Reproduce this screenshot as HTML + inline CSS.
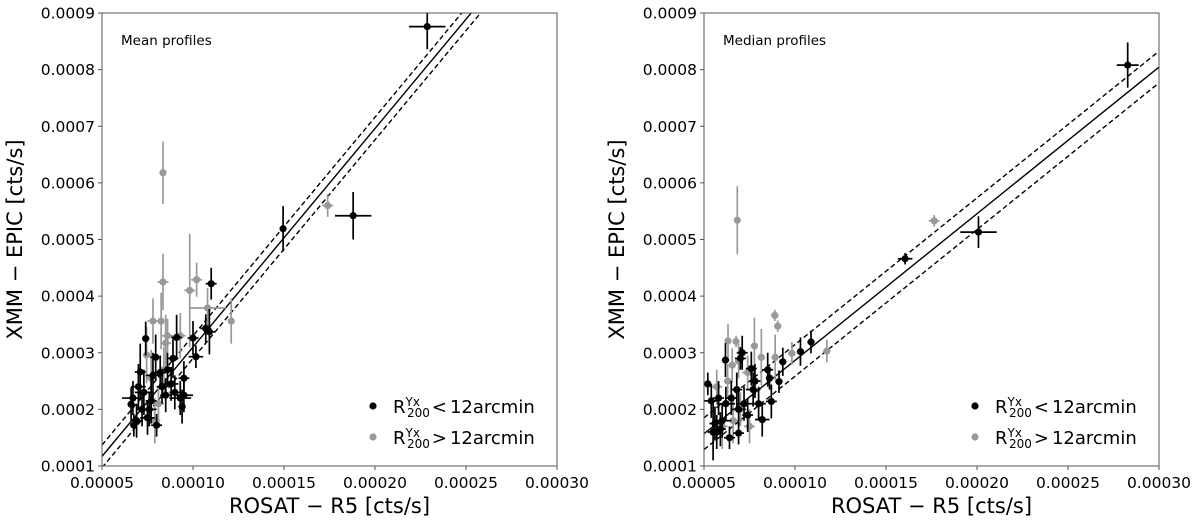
<!DOCTYPE html>
<html><head><meta charset="utf-8">
<style>
html,body{margin:0;padding:0;background:#fff;}
svg{display:block;font-family:"DejaVu Sans","Liberation Sans",sans-serif;}
</style></head>
<body>
<svg id="chart" width="1200" height="527" viewBox="0 0 1200 527" xmlns="http://www.w3.org/2000/svg"></svg>
<script>
// ---- data (x in cts/s, y in cts/s) ----
const xTicks = [0.00005,0.00010,0.00015,0.00020,0.00025,0.00030];
const xTickLabels = ["0.00005","0.00010","0.00015","0.00020","0.00025","0.00030"];
const yTicks = [0.0001,0.0002,0.0003,0.0004,0.0005,0.0006,0.0007,0.0008,0.0009];
const yTickLabels = ["0.0001","0.0002","0.0003","0.0004","0.0005","0.0006","0.0007","0.0008","0.0009"];
const panelTitles = ["Mean profiles","Median profiles"];
// fit lines: [intercept at x=0.00005, slope, dashed offset]
const fitMean = [0.000117, 3.86, 0.00002];
const fitMedian = [0.000157, 2.59, 0.000028];
// points: [x(1e-5), y(1e-4), xerr(1e-5), yerr(1e-4)]
const meanBlack = [[22.87,8.76,1.0,0.4],[18.8,5.42,1.0,0.42],[14.95,5.19,0.15,0.4],[11.0,4.22,0.3,0.28],[10.9,3.37,0.3,0.4],[10.7,3.43,0.3,0.25],[10.16,2.93,0.4,0.2],[10.0,3.26,0.3,0.3],[9.5,2.55,0.3,0.3],[9.4,2.05,0.2,0.3],[9.3,2.2,0.6,0.3],[9.1,3.27,0.3,0.4],[8.9,2.9,0.3,0.35],[8.8,2.45,0.4,0.3],[8.6,2.7,0.3,0.3],[8.3,2.4,0.3,0.3],[8.0,1.72,0.3,0.2],[7.95,2.92,0.3,0.4],[7.8,2.6,0.4,0.4],[7.6,2.0,0.4,0.3],[7.4,3.25,0.2,0.3],[7.3,2.3,0.5,0.4],[7.1,2.66,0.3,0.5],[7.0,2.4,0.4,0.4],[6.9,1.8,0.3,0.3],[6.75,1.72,0.2,0.2],[6.6,2.09,0.2,0.3],[6.7,2.2,0.6,0.3],[7.2,2.0,0.3,0.3],[7.5,1.85,0.4,0.3],[8.2,2.65,0.5,0.3],[9.0,2.3,0.3,0.3],[8.5,2.25,0.3,0.3],[7.7,2.15,0.3,0.4],[9.5,2.25,0.5,0.3]];
const meanGray = [[8.35,6.18,0.1,0.55],[17.4,5.6,0.3,0.2],[8.35,4.25,0.3,0.5],[10.2,4.29,0.3,0.3],[9.82,4.1,0.3,1.0],[10.8,3.79,1.0,0.35],[12.1,3.56,0.1,0.4],[7.8,3.56,0.3,0.4],[8.25,3.56,0.1,0.5],[7.45,2.96,0.2,0.5],[8.5,3.17,0.3,0.5],[8.6,3.3,0.3,0.3],[9.3,3.3,0.3,0.4],[7.7,2.55,0.3,0.5],[8.1,2.1,0.3,0.3],[7.9,1.8,0.3,0.4],[8.4,2.7,0.3,0.4]];
const medianBlack = [[28.28,8.08,0.6,0.4],[20.08,5.13,1.0,0.28],[16.05,4.66,0.4,0.1],[10.88,3.19,0.2,0.2],[10.3,3.02,0.2,0.25],[9.33,2.84,0.2,0.25],[9.12,2.49,0.2,0.2],[8.7,2.14,0.3,0.3],[8.5,2.7,0.3,0.3],[8.6,2.55,0.2,0.2],[8.2,1.82,0.4,0.3],[7.8,2.5,0.3,0.3],[7.7,2.35,0.4,0.3],[7.6,2.72,0.3,0.3],[7.1,3.0,0.3,0.3],[7.0,2.9,0.3,0.2],[7.2,2.1,0.4,0.3],[6.9,2.0,0.4,0.3],[6.8,2.35,0.3,0.3],[6.5,2.2,0.3,0.3],[6.18,2.87,0.2,0.3],[6.2,2.1,0.5,0.3],[6.0,1.8,0.5,0.3],[5.9,1.65,0.3,0.3],[5.8,2.2,0.3,0.3],[5.7,1.6,0.3,0.3],[5.6,1.75,0.3,0.3],[5.5,1.6,0.3,0.5],[5.21,2.45,0.1,0.2],[5.4,2.15,0.4,0.3],[6.4,1.5,0.3,0.2],[6.9,1.58,0.3,0.2],[7.4,1.9,0.3,0.3],[8.0,2.1,0.4,0.3]];
const medianGray = [[6.83,5.34,0.1,0.6],[17.65,5.33,0.3,0.1],[11.75,3.03,0.2,0.2],[8.89,3.66,0.2,0.1],[9.05,3.47,0.2,0.1],[6.32,3.21,0.1,0.3],[6.76,3.2,0.1,0.1],[7.77,3.12,0.2,0.5],[8.15,2.92,0.2,0.5],[8.91,2.92,0.2,0.4],[9.83,2.99,0.2,0.2],[6.55,2.78,0.2,0.3],[6.3,2.5,0.2,0.3],[7.4,2.65,0.3,0.3],[5.7,2.4,0.3,0.3],[6.0,1.7,0.3,0.4],[6.6,1.8,0.5,0.4],[7.0,2.0,0.3,0.3],[7.5,1.7,0.3,0.3],[6.9,2.85,0.2,0.3]];

const NS = "http://www.w3.org/2000/svg";
const svg = document.getElementById('chart');
function mk(tag, attrs, parent){ const e=document.createElementNS(NS,tag); for(const k in attrs) e.setAttribute(k,attrs[k]); (parent||svg).appendChild(e); return e; }

const TOP=13, BOT=466, X0=0.00005, X1=0.0003, Y0=0.0001, Y1=0.0009;

function panel(idx, L, R, fit, black, gray){
  const g = mk('g',{});
  
  
  const sx = v => L + (v-X0)/(X1-X0)*(R-L);
  const sy = v => BOT - (v-Y0)/(Y1-Y0)*(BOT-TOP);
  const cid='clip'+idx;
  const cp = mk('clipPath',{id:cid},g); mk('rect',{x:L,y:TOP,width:R-L,height:BOT-TOP},cp);
  const fl = (off,dash,name)=>{
    const a=X0, b=X1;
    const l = mk('line',{x1:sx(a),y1:sy(fit[0]+off),x2:sx(b),y2:sy(fit[0]+off+fit[1]*(b-a)),stroke:'#000','stroke-width':1.4,'clip-path':`url(#${cid})`},g);
    if(dash) l.setAttribute('stroke-dasharray','5,3');
    
    
  };
  fl(0,false,'fit-line'); fl(fit[2],true,'fit-upper-bound'); fl(-fit[2],true,'fit-lower-bound');
  const drawPts=(arr,col,name)=>{
    const pg=mk('g',{'clip-path':`url(#${cid})`},g);
    
    
    arr.forEach(p=>{
      const x=p[0]*1e-5, y=p[1]*1e-4, ex=p[2]*1e-5, ey=p[3]*1e-4;
      mk('line',{x1:sx(x-ex),y1:sy(y),x2:sx(x+ex),y2:sy(y),stroke:col,'stroke-width':1.7},pg);
      mk('line',{x1:sx(x),y1:sy(y-ey),x2:sx(x),y2:sy(y+ey),stroke:col,'stroke-width':1.7},pg);
      const c=mk('circle',{cx:sx(x),cy:sy(y),r:3.6,fill:col},pg);
      
      
    });
  };
  drawPts(gray,'#999999','gray-points');
  drawPts(black,'#000000','black-points');
  const fr=mk('rect',{x:L,y:TOP,width:R-L,height:BOT-TOP,fill:'none',stroke:'#555','stroke-width':1},g);
   
  xTicks.forEach((t,i)=>{
    const x=sx(t);
    mk('line',{x1:x,y1:BOT,x2:x,y2:BOT+4,stroke:'#555'},g);
    const tx=mk('text',{x:x,y:BOT+22,'text-anchor':'middle','font-size':15.5,fill:'#000'},g);
    tx.textContent=xTickLabels[i];
     
  });
  yTicks.forEach((t,i)=>{
    const y=sy(t);
    mk('line',{x1:L-4,y1:y,x2:L,y2:y,stroke:'#555'},g);
    const tx=mk('text',{x:L-7,y:y+5.5,'text-anchor':'end','font-size':15.5,fill:'#000'},g);
    tx.textContent=yTickLabels[i];
     
  });
  const xt=mk('text',{x:(L+R)/2,y:513,'text-anchor':'middle','font-size':21,fill:'#000'},g);
  xt.textContent='ROSAT \u2212 R5 [cts/s]';
   
  const cy=(TOP+BOT)/2, cx=L-80;
  const yt=mk('text',{x:cx,y:cy,'text-anchor':'middle','font-size':21,fill:'#000',transform:`rotate(-90 ${cx} ${cy})`},g);
  yt.textContent='XMM \u2212 EPIC [cts/s]';
   
  const pt=mk('text',{x:L+19,y:TOP+32,'font-size':13.5,fill:'#000'},g);
  pt.textContent=panelTitles[idx];
   
  const lg=mk('g',{},g);
   
  [['#000','<'],['#999','>']].forEach((e,i)=>{
    const y=406+i*31, lx=L+271;
    mk('circle',{cx:lx,cy:y,r:3.6,fill:e[0]},lg);
    const t=mk('text',{x:lx+20,y:y+7,'font-size':18,fill:'#000'},lg);
     
    t.innerHTML='R<tspan font-size="12" dy="-7">Yx</tspan><tspan font-size="12" dx="-13" dy="11">200</tspan><tspan dy="-4" dx="2">'+e[1]+'</tspan><tspan dx="3">12arcmin</tspan>';
  });
}
panel(0,102,557,fitMean,meanBlack,meanGray);
panel(1,704,1159,fitMedian,medianBlack,medianGray);
</script>
</body></html>
